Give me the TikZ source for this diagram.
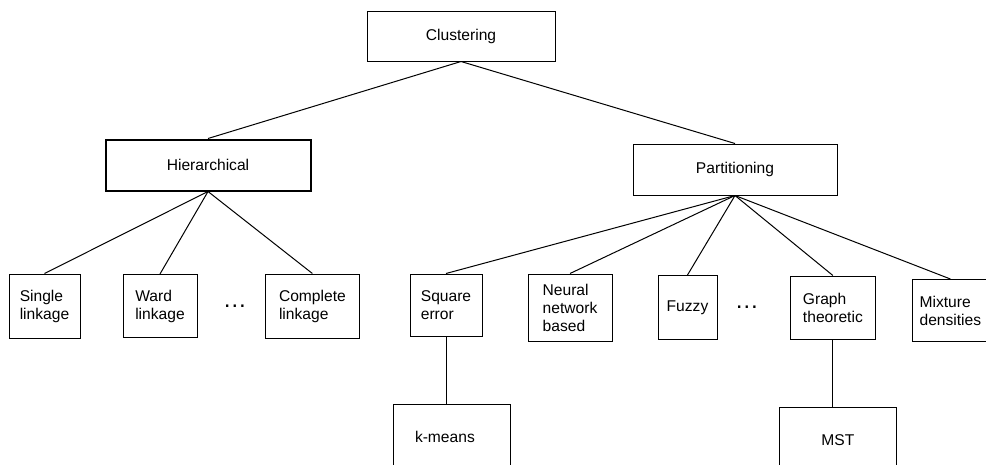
\documentclass[tikz,border=0pt]{standalone}
\usepackage{fontspec}
\setmainfont{Liberation Sans}
\usepackage{tikz}
\usetikzlibrary{
  positioning
}
\tikzstyle{rootbox} = [
  rectangle, draw=black, line width=1pt,
  minimum width=188pt, minimum height=50pt,
  align=center, font=\fontsize{15.6}{18}\selectfont
]
\tikzstyle{groupbox} = [
  rectangle, draw=black, line width=1pt,
  minimum width=204pt, minimum height=51pt,
  align=center, font=\fontsize{15.6}{18}\selectfont
]
\tikzstyle{leafbox} = [
  rectangle, draw=black, line width=1pt, inner sep=0pt,
  minimum height=64pt,
  align=left, font=\fontsize{15.6}{18}\selectfont
]
\tikzstyle{dotsnode} = [inner sep=0pt, font=\fontsize{24}{24}\selectfont]
\tikzstyle{edgestyle} = [line width=1pt]

\begin{document}
\begin{tikzpicture}
\useasboundingbox (0,0) rectangle (986pt,-464pt);

% --- Root ---
\node[rootbox] (clustering) at (461pt,-36pt) {Clustering};

% --- Families ---
\node[groupbox, line width=2pt, minimum width=205pt, below left=77pt and 55pt of clustering] (hier) {Hierarchical};
\node[groupbox, below right=82pt and 77pt of clustering] (part) {Partitioning};

% --- Hierarchical methods ---
\node[leafbox, minimum width=71pt, below left=82pt and 24pt of hier] (single) {Single\\linkage};
\node[leafbox, minimum width=74pt, minimum height=63pt, right=42pt of single] (ward) {Ward\\linkage};
\node[dotsnode, right=25.2pt of ward] (hdots) {…};
\node[leafbox, minimum width=94pt, right=17.8pt of hdots] (complete) {Complete\\linkage};

% --- Partitioning methods ---
\node[leafbox, minimum width=72pt, minimum height=62pt, below left=78pt and 150pt of part] (square) {Square\\error};
\node[leafbox, minimum width=84pt, minimum height=67pt, right=45pt of square, yshift=-2.5pt] (neural) {Neural\\network\\based};
\node[leafbox, minimum width=59pt, right=45pt of neural] (fuzzy) {Fuzzy};
\node[dotsnode, right=17.2pt of fuzzy] (pdots) {…};
\node[leafbox, minimum width=85pt, minimum height=63pt, right=30.8pt of pdots] (graph) {Graph\\theoretic};
\node[leafbox, minimum width=76pt, minimum height=62pt, right=36pt of graph, yshift=-3pt] (mixture) {Mixture\\densities};

% --- Algorithms ---
\node[leafbox, text width=73pt, inner xsep=22pt, minimum height=66pt, below=67pt of square, xshift=5.5pt] (kmeans) {k-means};
\node[leafbox, minimum width=117pt, minimum height=66pt, below=67pt of graph, xshift=5pt] (mst) {MST};

% --- Links ---
\draw[edgestyle] (clustering.south) -- (hier.north);
\draw[edgestyle] (clustering.south) -- (part.north);

\draw[edgestyle] (hier.south) -- (single.north);
\draw[edgestyle] (hier.south) -- (ward.north);
\draw[edgestyle] (hier.south) -- (complete.north);

\draw[edgestyle] (part.south) -- (square.north);
\draw[edgestyle] (part.south) -- (neural.north);
\draw[edgestyle] (part.south) -- (fuzzy.north);
\draw[edgestyle] (part.south) -- (graph.north);
\draw[edgestyle] (part.south) -- (mixture.north);

\draw[edgestyle] (square.south) -- (square.south |- kmeans.north);
\draw[edgestyle] (graph.south) -- (graph.south |- mst.north);

\end{tikzpicture}
\end{document}
